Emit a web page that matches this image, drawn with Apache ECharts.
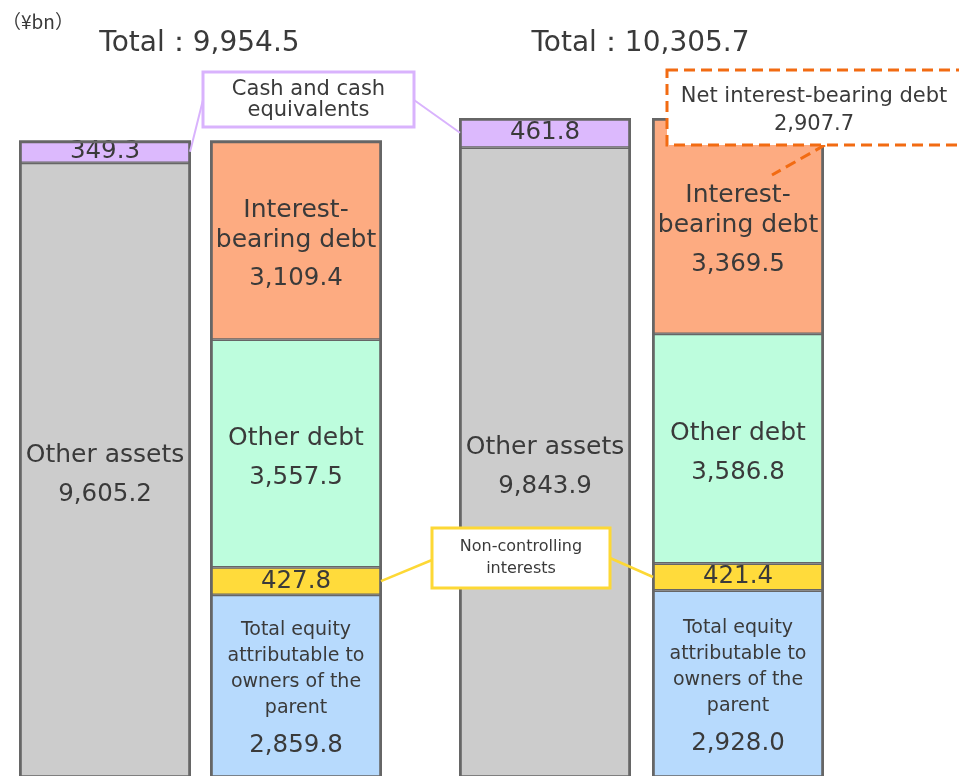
<!DOCTYPE html>
<html><head><meta charset="utf-8">
<script src="https://cdn.jsdelivr.net/npm/echarts@6/dist/echarts.min.js"></script>
<style>html,body{margin:0;padding:0;background:#fff}#c{width:959px;height:776px}</style>
</head><body><div id="c"></div>
<script>
// ---- data (¥bn) ----
const sides = ['Assets', 'Liabilities and equity'];
const totals = [9954.5, 10305.7];
const otherAssets = [9605.2, 9843.9];
const cashEq = [349.3, 461.8];
const equityParent = [2859.8, 2928.0];
const nonControlling = [427.8, 421.4];
const otherDebt = [3557.5, 3586.8];
const interestDebt = [3109.4, 3369.5];
const netInterestDebt = [null, 2907.7];
const unitLabel = '（¥bn）';

// ---- style ----
const FONT = '"DejaVu Sans", sans-serif';
const TXT = '#3a3a3a';
const BORDER = '#666666';
const C = {
  other: '#cccccc', cash: '#dcb9fd', equity: '#b7dafd', nci: '#ffdb3b',
  odebt: '#bdfddd', ibd: '#fdab81'
};
const BAR_W = 172;
const BW = 1.4;
const fmt = v => v.toLocaleString('en-US', {minimumFractionDigits: 1, maximumFractionDigits: 1});

const chart = echarts.init(document.getElementById('c'), null, {renderer: 'canvas'});

const rich = {
  n: {fontFamily: FONT, fontSize: 25, lineHeight: 30, color: TXT},
  v: {fontFamily: FONT, fontSize: 24.5, lineHeight: 48, color: TXT},
  s: {fontFamily: FONT, fontSize: 24.5, lineHeight: 26, color: TXT},
  e: {fontFamily: FONT, fontSize: 19, lineHeight: 26, color: TXT}
};
function seg(name, g, arr, side, color, fmtFn, offY) {
  const data = side === 0 ? [arr[g], '-'] : ['-', arr[g]];
  return {
    type: 'bar', name, xAxisIndex: g, yAxisIndex: g, stack: 'g' + g,
    barWidth: BAR_W, data, barGap: '-100%',
    itemStyle: {color, borderColor: BORDER, borderWidth: BW},
    label: {show: true, position: 'inside', formatter: p => fmtFn(p.value), rich, offset: [0, offY]},
    emphasis: {disabled: true}
  };
}
const series = [];
[0, 1].forEach(g => {
  series.push(seg('Other assets', g, otherAssets, 0, C.other, v => '{n|Other assets}\n{v|' + fmt(v) + '}', 9));
  series.push(seg('Cash and cash equivalents', g, cashEq, 0, C.cash, v => '{s|' + fmt(v) + '}', 0));
  series.push(seg('Total equity attributable to owners of the parent', g, equityParent, 1, C.equity,
    v => '{e|Total equity}\n{e|attributable to}\n{e|owners of the}\n{e|parent}\n{v|' + fmt(v) + '}', 7));
  series.push(seg('Non-controlling interests', g, nonControlling, 1, C.nci, v => '{s|' + fmt(v) + '}', 0));
  series.push(seg('Other debt', g, otherDebt, 1, C.odebt, v => '{n|Other debt}\n{v|' + fmt(v) + '}', 9));
  series.push(seg('Interest-bearing debt', g, interestDebt, 1, C.ibd, v => '{n|Interest-}\n{n|bearing debt}\n{v|' + fmt(v) + '}', 9));
  // outline of each whole bar (both sides add up to the total)
  series.push({
    type: 'bar', name: 'outline', xAxisIndex: g, yAxisIndex: g, barWidth: BAR_W, barGap: '-100%', z: 3,
    data: [totals[g], totals[g]], silent: true,
    itemStyle: {color: 'rgba(0,0,0,0)', borderColor: BORDER, borderWidth: BW * 2},
    label: {show: false}, emphasis: {disabled: true}
  });
});

const maxTotal = Math.max(...totals);
chart.setOption({
  animation: false,
  textStyle: {fontFamily: FONT},
  grid: [
    {left: 9.5, width: 382, top: 118, height: 660, outerBoundsMode: 'none', containLabel: false},
    {left: 448.5, width: 386, top: 118, height: 660, outerBoundsMode: 'none', containLabel: false}
  ],
  xAxis: [0, 1].map(g => ({type: 'category', gridIndex: g, data: sides, show: false})),
  yAxis: [0, 1].map(g => ({type: 'value', gridIndex: g, min: 0, max: maxTotal, show: false})),
  series
});

// ---- annotations (anchored to the bars through the axes) ----
const px = (g, cat, val) => chart.convertToPixel({gridIndex: g}, [cat, val]);
const half = 85;
const Z = 100;
const gfx = [];
gfx.push({type: 'text', z: Z, style: {text: unitLabel, x: 2, y: 22, fill: TXT, font: '19px "Noto Sans CJK JP", ' + FONT, verticalAlign: 'middle'}});
[0, 1].forEach(g => {
  const cx = (px(g, 0, 0)[0] + px(g, 1, 0)[0]) / 2;
  gfx.push({type: 'text', z: Z, style: {text: 'Total：' + fmt(totals[g]), x: cx - 1, y: 44, align: 'center', verticalAlign: 'middle', fill: TXT, font: '28px ' + FONT}});
});

const purple = '#d9b3fd', yellow = '#fdd835', orange = '#f26b12';
// cash box
const cashMid0 = px(0, 0, otherAssets[0] + cashEq[0] / 2);
const cashMid1 = px(1, 0, otherAssets[1] + cashEq[1] / 2);
gfx.push({type: 'line', z: Z, shape: {x1: cashMid0[0] + half, y1: cashMid0[1], x2: 203, y2: 100}, style: {stroke: purple, lineWidth: 2}});
gfx.push({type: 'line', z: Z, shape: {x1: 414, y1: 100, x2: cashMid1[0] - half, y2: cashMid1[1]}, style: {stroke: purple, lineWidth: 2}});
gfx.push({type: 'rect', z: Z + 1, shape: {x: 203, y: 72, width: 211, height: 55}, style: {fill: '#fff', stroke: purple, lineWidth: 3}});
gfx.push({type: 'text', z: Z + 2, style: {text: 'Cash and cash\nequivalents', x: 308.5, y: 100, align: 'center', verticalAlign: 'middle', fill: TXT, font: '21px ' + FONT, lineHeight: 21}});

// NCI box
const nciMid0 = px(0, 1, equityParent[0] + nonControlling[0] / 2);
const nciMid1 = px(1, 1, equityParent[1] + nonControlling[1] / 2);
gfx.push({type: 'line', z: Z, shape: {x1: nciMid0[0] + half, y1: nciMid0[1], x2: 432, y2: 560}, style: {stroke: yellow, lineWidth: 2.5}});
gfx.push({type: 'line', z: Z, shape: {x1: 610, y1: 558, x2: nciMid1[0] - half, y2: nciMid1[1]}, style: {stroke: yellow, lineWidth: 2.5}});
gfx.push({type: 'rect', z: Z + 1, shape: {x: 432, y: 528, width: 178, height: 60}, style: {fill: '#fff', stroke: yellow, lineWidth: 3}});
gfx.push({type: 'text', z: Z + 2, style: {text: 'Non-controlling\ninterests', x: 521, y: 558, align: 'center', verticalAlign: 'middle', fill: TXT, font: '16px ' + FONT, lineHeight: 22}});

// Net interest-bearing debt box
const ibdTop = px(1, 1, totals[1]);
gfx.push({type: 'line', z: Z, shape: {x1: ibdTop[0] + 87, y1: 145, x2: ibdTop[0] + 34, y2: ibdTop[1] + 57}, style: {stroke: orange, lineWidth: 3, lineDash: [11, 6]}});
gfx.push({type: 'rect', z: Z + 1, shape: {x: 667, y: 70, width: 320, height: 75}, style: {fill: '#fff', stroke: orange, lineWidth: 3, lineDash: [11, 6]}});
gfx.push({type: 'text', z: Z + 2, style: {text: 'Net interest-bearing debt\n' + fmt(netInterestDebt[1]), x: 814, y: 111, align: 'center', verticalAlign: 'middle', fill: TXT, font: '21px ' + FONT, lineHeight: 28}});

chart.setOption({graphic: gfx});
</script></body></html>
